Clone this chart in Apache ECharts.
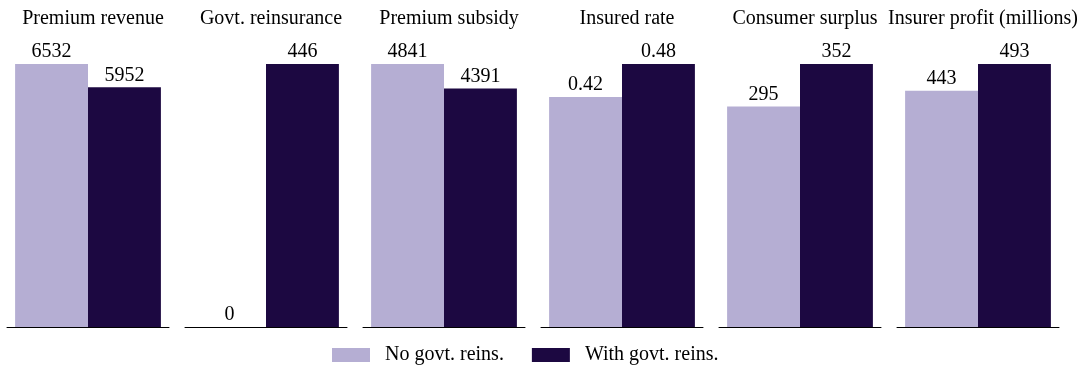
<!DOCTYPE html>
<html>
<head>
<meta charset="utf-8">
<script src="https://cdn.jsdelivr.net/npm/echarts@6/dist/echarts.min.js"></script>
<style>
  html, body { margin: 0; padding: 0; background: #fff; }
  #chart { width: 1080px; height: 366px; }
</style>
</head>
<body>
<div id="chart"></div>
<script>
// Outcomes compared with and without government reinsurance
const panels = ['Premium revenue', 'Govt. reinsurance', 'Premium subsidy', 'Insured rate', 'Consumer surplus', 'Insurer profit (millions)'];
const noReins = [6532, 0, 4841, 0.42, 295, 443];
const withReins = [5952, 446, 4391, 0.48, 352, 493];
const seriesNames = ['No govt. reins.', 'With govt. reins.'];
const colors = ['#b5aed3', '#1c0841'];

const FONT = '"Liberation Serif", "DejaVu Serif", serif';
const panelLeft = 7, panelStep = 178, panelWidth = 162;

const grids = [], xAxes = [], yAxes = [], titles = [], series = [];

panels.forEach((name, i) => {
  const left = panelLeft + panelStep * i;
  grids.push({ left: left, width: panelWidth, top: 64, bottom: 39 });
  titles.push({
    text: name,
    left: left + panelWidth / 2,
    textAlign: 'center',
    top: 4,
    textStyle: { fontFamily: FONT, fontSize: 20, fontWeight: 'normal', color: '#000' }
  });
  xAxes.push({
    type: 'category', gridIndex: i, data: [name],
    axisLine: { show: true, lineStyle: { color: '#000', width: 1 } },
    axisTick: { show: false }, axisLabel: { show: false }
  });
  yAxes.push({
    type: 'value', gridIndex: i, min: 0,
    max: Math.max(noReins[i], withReins[i]),
    show: false, splitLine: { show: false }
  });
  [noReins, withReins].forEach((vals, k) => {
    series.push({
      type: 'bar', name: seriesNames[k],
      xAxisIndex: i, yAxisIndex: i,
      data: [vals[i]],
      barGap: '0%', barCategoryGap: '10%',
      itemStyle: { color: colors[k] },
      label: {
        show: true, position: 'top', distance: 2,
        fontFamily: FONT, fontSize: 20, color: '#000',
        formatter: p => String(p.value)
      },
      emphasis: { disabled: true },
      animation: false
    });
  });
});

const chart = echarts.init(document.getElementById('chart'));
chart.setOption({
  backgroundColor: '#fff',
  animation: false,
  title: titles,
  grid: grids,
  xAxis: xAxes,
  yAxis: yAxes,
  series: series,
  legend: {
    data: seriesNames,
    left: 327, top: 340,
    itemWidth: 38, itemHeight: 14, itemGap: 28,
    icon: 'rect',
    textStyle: { fontFamily: FONT, fontSize: 20, color: '#000', padding: [0, 0, 0, 10] }
  }
});
</script>
</body>
</html>
